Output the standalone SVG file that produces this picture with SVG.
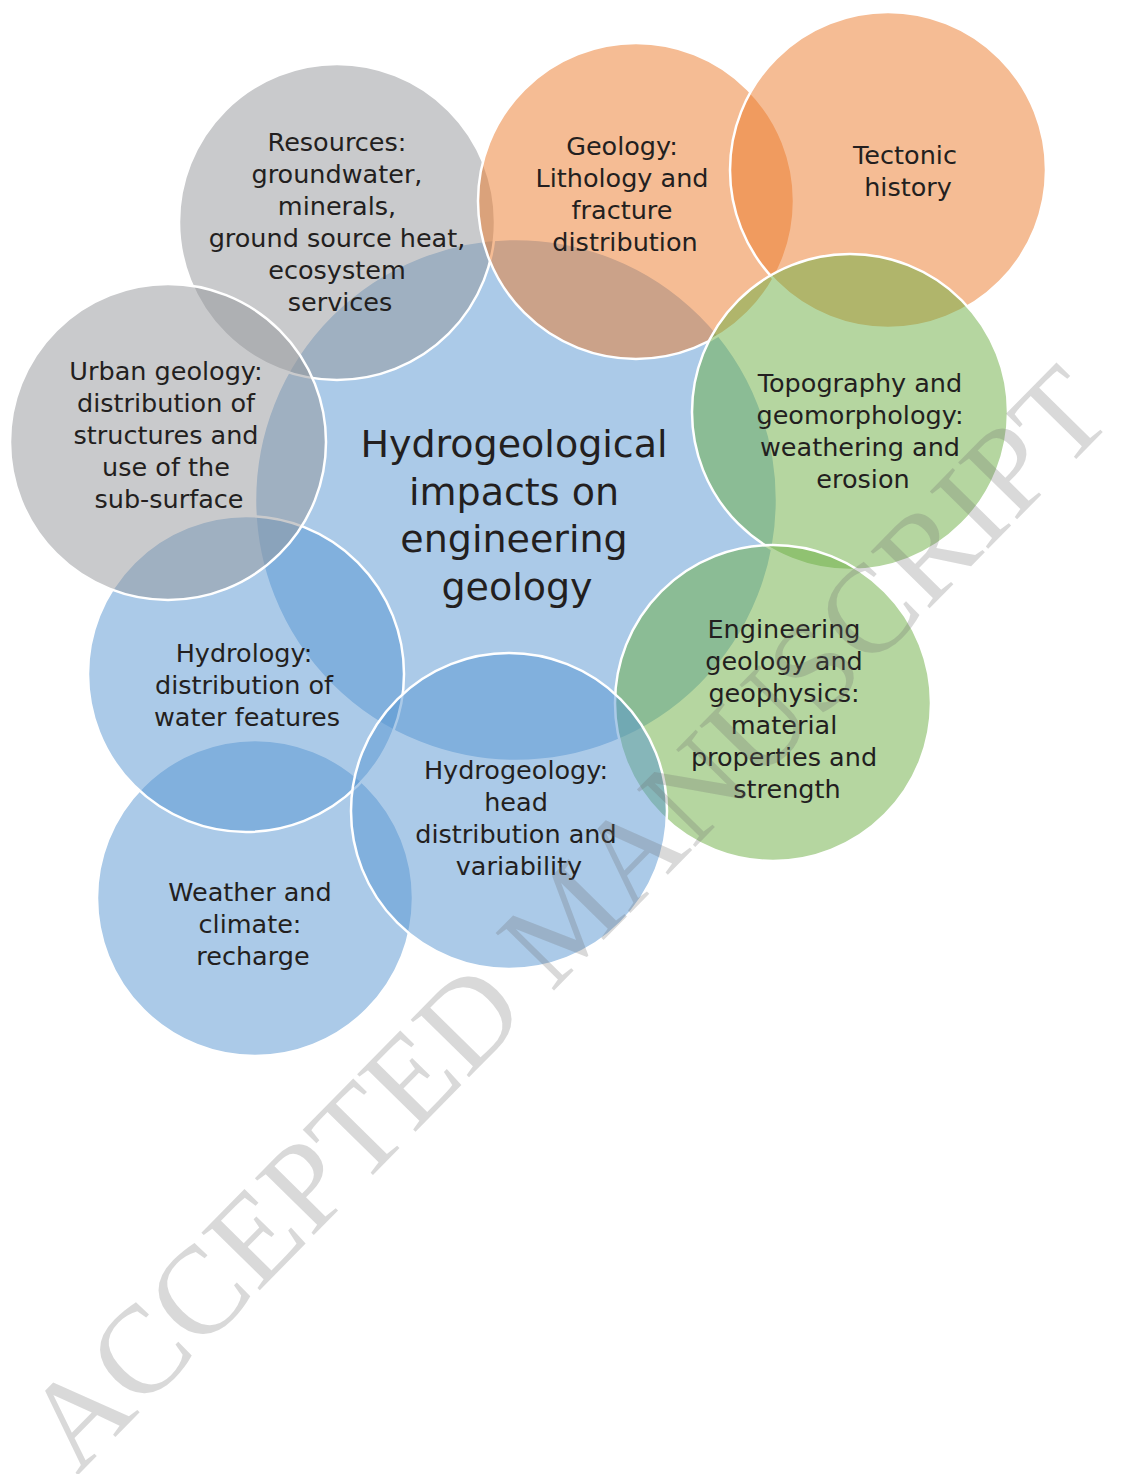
<svg xmlns="http://www.w3.org/2000/svg" width="1128" height="1474" viewBox="0 0 1128 1474">
<style>
.c{stroke:#fff;stroke-width:2.5;fill-opacity:0.5}
.blue{fill:#5795D1}
.orange{fill:#EB7929}
.gray{fill:#939599}
.green{fill:#6BAD41}
.t{font-family:"DejaVu Sans",sans-serif;font-size:25.5px;fill:#231F20;text-anchor:middle}
.title{font-size:38px}
.wm{font-family:"Liberation Serif","Times New Roman",serif;font-size:125px;fill:#6E6E6E;fill-opacity:0.26}
</style>
<rect width="1128" height="1474" fill="#fff"/>
<g id="central">
<circle class="c blue" cx="516" cy="500" r="261"/>
<text class="t title"><tspan x="514" y="457">Hydrogeological</tspan><tspan x="514" y="505">impacts on</tspan><tspan x="514" y="552">engineering</tspan><tspan x="517" y="600">geology</tspan></text>
</g>
<g id="resources">
<circle class="c gray" cx="337" cy="222" r="158"/>
<text class="t"><tspan x="337" y="151">Resources:</tspan><tspan x="337" y="183">groundwater,</tspan><tspan x="337" y="215">minerals,</tspan><tspan x="337" y="247">ground source heat,</tspan><tspan x="337" y="279">ecosystem</tspan><tspan x="340" y="311">services</tspan></text>
</g>
<g id="geology">
<circle class="c orange" cx="636" cy="201" r="158"/>
<text class="t"><tspan x="622" y="155">Geology:</tspan><tspan x="622" y="187">Lithology and</tspan><tspan x="622" y="219">fracture</tspan><tspan x="625" y="251">distribution</tspan></text>
</g>
<g id="tectonic">
<circle class="c orange" cx="888" cy="170" r="158"/>
<text class="t"><tspan x="905" y="164">Tectonic</tspan><tspan x="908" y="196">history</tspan></text>
</g>
<g id="topography">
<circle class="c green" cx="850" cy="412" r="158"/>
<text class="t"><tspan x="860" y="392">Topography and</tspan><tspan x="860" y="424">geomorphology:</tspan><tspan x="860" y="456">weathering and</tspan><tspan x="863" y="488">erosion</tspan></text>
</g>
<g id="engineering">
<circle class="c green" cx="773" cy="703" r="158"/>
<text class="t"><tspan x="784" y="638">Engineering</tspan><tspan x="784" y="670">geology and</tspan><tspan x="784" y="702">geophysics:</tspan><tspan x="784" y="734">material</tspan><tspan x="784" y="766">properties and</tspan><tspan x="787" y="798">strength</tspan></text>
</g>
<g id="weather">
<circle class="c blue" cx="255" cy="898" r="158"/>
<text class="t"><tspan x="250" y="901">Weather and</tspan><tspan x="250" y="933">climate:</tspan><tspan x="253" y="965">recharge</tspan></text>
</g>
<g id="hydrology">
<circle class="c blue" cx="246" cy="674" r="158"/>
<text class="t"><tspan x="244" y="662">Hydrology:</tspan><tspan x="244" y="694">distribution of</tspan><tspan x="247" y="726">water features</tspan></text>
</g>
<g id="urban">
<circle class="c gray" cx="168" cy="442" r="158"/>
<text class="t"><tspan x="166" y="380">Urban geology:</tspan><tspan x="166" y="412">distribution of</tspan><tspan x="166" y="444">structures and</tspan><tspan x="166" y="476">use of the</tspan><tspan x="169" y="508">sub-surface</tspan></text>
</g>
<g id="hydrogeology">
<circle class="c blue" cx="509" cy="811" r="158"/>
<text class="t"><tspan x="516" y="779">Hydrogeology:</tspan><tspan x="516" y="811">head</tspan><tspan x="516" y="843">distribution and</tspan><tspan x="519" y="875">variability</tspan></text>
</g>
<g id="watermark">
<text class="wm" transform="translate(77 1476) rotate(-45.5)" x="0" y="0">ACCEPTED MANUSCRIPT</text>
</g>
</svg>
